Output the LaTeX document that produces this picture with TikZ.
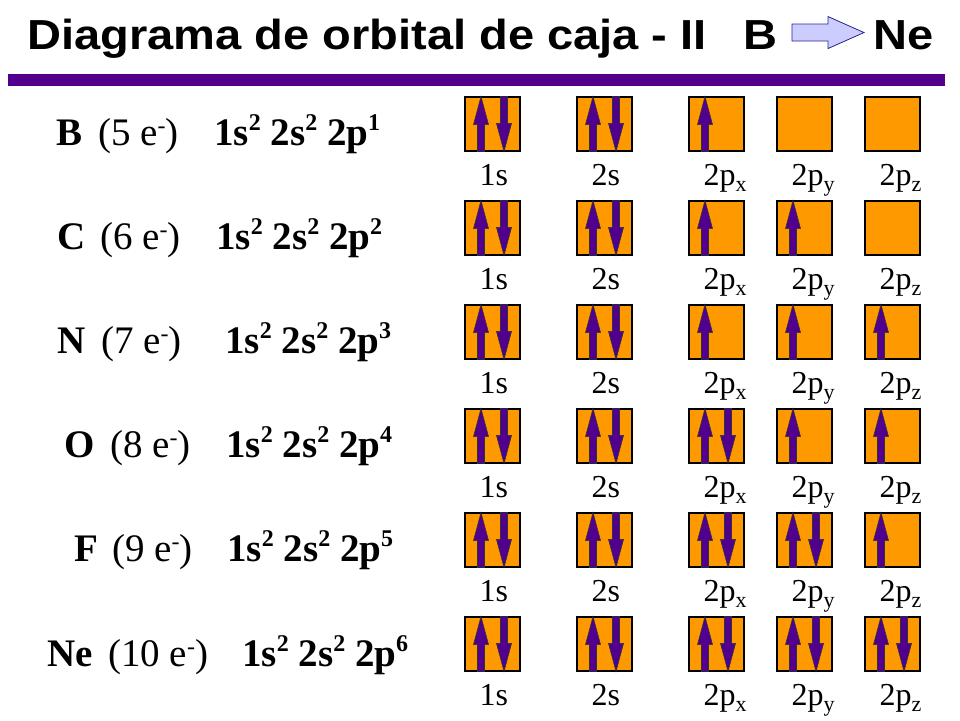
\documentclass[tikz,border=0pt]{standalone}
\usepackage{fontspec}
\setmainfont{Liberation Serif}
\newfontfamily\titlefont[FakeStretch=1.12]{Liberation Sans}
\definecolor{orbfill}{RGB}{255,153,0}
\definecolor{spincol}{RGB}{80,0,140}
\definecolor{arrfill}{RGB}{204,204,255}
\definecolor{arrline}{RGB}{40,40,140}
\newcommand\orbsup[1]{\raisebox{15pt}{\fontsize{24}{24}\selectfont #1}}
\newcommand\esup[1]{\raisebox{12pt}{\fontsize{24}{24}\selectfont #1}}
\newcommand\orbsub[1]{\raisebox{-6pt}{\fontsize{22}{22}\selectfont #1}}
\tikzset{
  orb/.style={draw, line width=1.2, fill=orbfill, minimum width=55, minimum height=54, inner sep=0},
  orblbl/.style={inner sep=0, anchor=base west, font=\fontsize{32}{38}\selectfont},
  rowtxt/.style={inner sep=0, anchor=base west, font=\fontsize{39}{46}\selectfont},
  titletxt/.style={inner sep=0, font=\titlefont\bfseries\fontsize{42}{48}\selectfont},
  spin/.style={fill=spincol, draw=black!80, line width=0.6},
  spinup/.pic={\filldraw[spin] (-3.5,0) -- (-3.5,27) -- (-7.5,27) -- (0,55) -- (7.5,27) -- (3.5,27) -- (3.5,0) -- cycle;},
  spindown/.pic={\filldraw[spin] (-3.5,0) -- (-3.5,-27) -- (-7.5,-27) -- (0,-55) -- (7.5,-27) -- (3.5,-27) -- (3.5,0) -- cycle;},
}

\begin{document}
\begin{tikzpicture}[x=1pt, y=1pt]
  \useasboundingbox (0,0) rectangle (960,720);
  % title
  \node[titletxt, anchor=base west] (title) at (27,670) {Diagrama de orbital de caja - II};
  \node[titletxt, anchor=base east] (tB) at (778,670) {B};
  \node[titletxt, anchor=base west] (tNe) at (873,670) {Ne};
  \filldraw[fill=arrfill, draw=arrline, line width=0.8] ([xshift=14,yshift=11.5]tB.east) -- ++(36,0) -- ++(0,7.5) -- ++(36,-16) -- ++(-36,-16) -- ++(0,7.5) -- ++(-36,0) -- cycle;
  \fill[spincol] (8,634) rectangle (945,646);
  % element, electrons, configuration
  \foreach \el/\cnt/\np/\xa/\xb/\xc/\yb in {B/5/1/56/98/214/574, C/6/2/57/100/216/470, N/7/3/57/101/225/366, O/8/4/64/110/226/262, F/9/5/74/112/227/158, Ne/10/6/47/108/242/54}{
    \node[rowtxt, font=\bfseries\fontsize{39}{46}\selectfont] (el\el) at (\xa,\yb) {\el};
    \node[rowtxt] (ne\el) at (\xb,\yb) {(\cnt{} e\esup{-})};
    \node[rowtxt, font=\bfseries\fontsize{39}{46}\selectfont] (cfg\el) at (\xc,\yb) {1s\orbsup{2} 2s\orbsup{2} 2p\orbsup{\np}};
  }
  % boxes and spins
  \foreach \r/\y/\occ in {1/596/{2,2,1,0,0}, 2/492/{2,2,1,1,0}, 3/388/{2,2,1,1,1}, 4/284/{2,2,2,1,1}, 5/180/{2,2,2,2,1}, 6/76/{2,2,2,2,2}}{
    \foreach \i/\x in {1/492.5, 2/604.5, 3/716.5, 4/804.5, 5/892.5}
      \node[orb] (b\r\i) at (\x,\y) {};
    \foreach \i/\lbl in {1/1s, 2/2s, 3/2p\orbsub{x}, 4/2p\orbsub{y}, 5/2p\orbsub{z}}
      \node[orblbl] (l\r\i) at ([shift={(15,-34)}]b\r\i.south west) {\lbl};
    \foreach \n [count=\i] in \occ {
      \ifnum\n>0 \pic at ([xshift=-11.5]b\r\i.south) {spinup};\fi
      \ifnum\n>1 \pic at ([xshift=11.5]b\r\i.north) {spindown};\fi
    }
  }
\end{tikzpicture}
\end{document}
